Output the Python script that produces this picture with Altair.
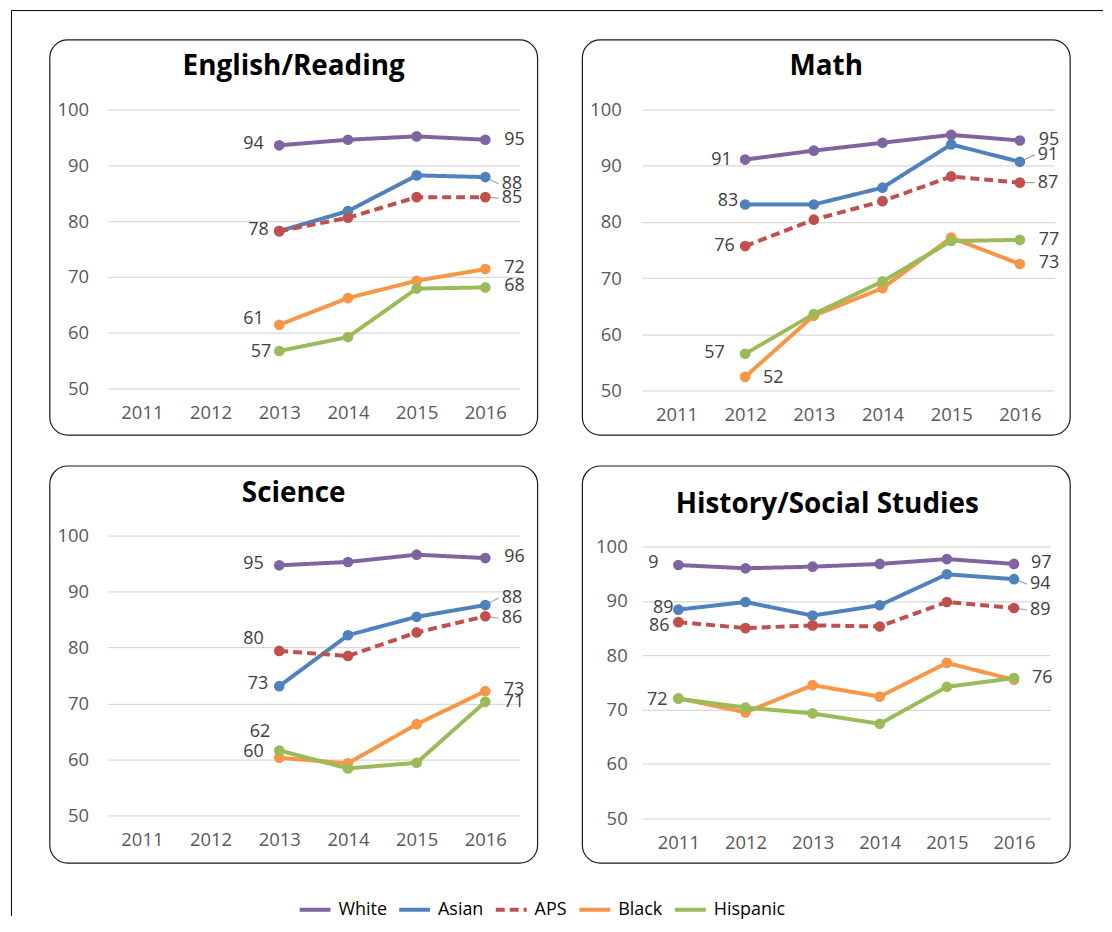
import altair as alt
import pandas as pd

FONT = "Open Sans"

YEARS = ["2011", "2012", "2013", "2014", "2015", "2016"]
GROUPS = ["White", "Asian", "APS", "Black", "Hispanic"]
COLORS = ["#8064A2", "#4F81BD", "#C0504D", "#F79646", "#9BBB59"]
DASHES = [[1, 0], [1, 0], [9, 5], [1, 0], [1, 0]]
Y_TICKS = [50, 60, 70, 80, 90, 100]

# ---- data (None = no value that year) ----
ENGLISH_WHITE = [None, None, 93.6, 94.6, 95.2, 94.6]
ENGLISH_ASIAN = [None, None, 78.2, 81.8, 88.2, 87.9]
ENGLISH_APS = [None, None, 78.2, 80.6, 84.3, 84.3]
ENGLISH_BLACK = [None, None, 61.4, 66.2, 69.3, 71.4]
ENGLISH_HISPANIC = [None, None, 56.7, 59.2, 67.9, 68.1]

MATH_WHITE = [None, 91.1, 92.7, 94.1, 95.5, 94.5]
MATH_ASIAN = [None, 83.1, 83.1, 86.1, 93.8, 90.7]
MATH_APS = [None, 75.7, 80.4, 83.7, 88.1, 87.0]
MATH_BLACK = [None, 52.4, 63.3, 68.2, 77.2, 72.5]
MATH_HISPANIC = [None, 56.5, 63.6, 69.4, 76.6, 76.8]

SCIENCE_WHITE = [None, None, 94.7, 95.3, 96.6, 96.0]
SCIENCE_ASIAN = [None, None, 73.1, 82.2, 85.5, 87.6]
SCIENCE_APS = [None, None, 79.4, 78.5, 82.7, 85.6]
SCIENCE_BLACK = [None, None, 60.3, 59.3, 66.3, 72.2]
SCIENCE_HISPANIC = [None, None, 61.6, 58.4, 59.4, 70.3]

HISTORY_WHITE = [96.6, 96.0, 96.3, 96.8, 97.7, 96.8]
HISTORY_ASIAN = [88.4, 89.8, 87.3, 89.2, 94.9, 94.0]
HISTORY_APS = [86.1, 85.0, 85.5, 85.3, 89.8, 88.7]
HISTORY_BLACK = [72.1, 69.5, 74.5, 72.4, 78.6, 75.5]
HISTORY_HISPANIC = [72.0, 70.4, 69.3, 67.4, 74.2, 75.8]

# data labels: (group, year, text)
ENGLISH_LABELS = [("White", "2013", "94"), ("Asian", "2013", "78"), ("Black", "2013", "61"),
                  ("Hispanic", "2013", "57"), ("White", "2016", "95"), ("Asian", "2016", "88"),
                  ("APS", "2016", "85"), ("Black", "2016", "72"), ("Hispanic", "2016", "68")]
MATH_LABELS = [("White", "2012", "91"), ("Asian", "2012", "83"), ("APS", "2012", "76"),
               ("Hispanic", "2012", "57"), ("Black", "2012", "52"), ("White", "2016", "95"),
               ("Asian", "2016", "91"), ("APS", "2016", "87"), ("Hispanic", "2016", "77"),
               ("Black", "2016", "73")]
SCIENCE_LABELS = [("White", "2013", "95"), ("APS", "2013", "80"), ("Asian", "2013", "73"),
                  ("Hispanic", "2013", "62"), ("Black", "2013", "60"), ("White", "2016", "96"),
                  ("Asian", "2016", "88"), ("APS", "2016", "86"), ("Black", "2016", "73"),
                  ("Hispanic", "2016", "71")]
HISTORY_LABELS = [("White", "2011", "9"), ("Asian", "2011", "89"), ("APS", "2011", "86"),
                  ("Black", "2011", "72"), ("White", "2016", "97"), ("Asian", "2016", "94"),
                  ("APS", "2016", "89"), ("Hispanic", "2016", "76")]

# ---- label placement (style): pixel nudges (dx, dy, align, leader line?) ----
NUDGE = {
    "English/Reading": [(-15.5, -1, "right", 0), (-10.5, -1, "right", 0), (-15.5, -6, "right", 0),
                        (-8, 1, "right", 0), (19, 0, "left", 0), (16.5, 7, "left", 1),
                        (16.5, 1, "left", 1), (19, -1, "left", 0), (19, -1, "left", 0)],
    "Math": [(-13.5, 0, "right", 0), (-7, -3, "right", 0), (-10.5, 0, "right", 0),
             (-20.5, -1, "right", 0), (18, 1, "left", 0), (19, 0, "left", 0),
             (18, -7, "left", 1), (18, 0, "left", 1), (19, 0, "left", 0), (19, -1, "left", 0)],
    "Science": [(-15.5, -1, "right", 0), (-15.5, -12, "right", 0), (-11, -2, "right", 0),
                (-9, -19, "right", 0), (-15.5, -6, "right", 0), (19, -1, "left", 0),
                (16.5, -7, "left", 1), (16.5, 2, "left", 1), (18.5, -1, "left", 0),
                (18.5, 0, "left", 0)],
    "History/Social Studies": [(-20, -2, "right", 0), (-5, -2, "right", 0), (-9, 4, "right", 0),
                               (-11, 2, "right", 0), (17, -1, "left", 0), (16, 5, "left", 1),
                               (16, 2, "left", 1), (18, 0, "left", 0)],
}

COLOR_OF = dict(zip(GROUPS, COLORS))

LEGEND = alt.Legend(
    title=None, orient="none", legendX=191, legendY=786, direction="horizontal",
    symbolType="stroke", symbolSize=961, symbolStrokeWidth=4, labelFontSize=18,
    labelFont=FONT, labelColor="black", columnPadding=4, labelOffset=6, padding=0,
)

DEC = pd.DataFrame({"k": [0]})


def panel(name, series, labels, width, height, ydomain, xpad, ylabpad,
          title_xy, box, frame=False):
    rows = []
    for g in GROUPS:
        for yr, v in zip(YEARS, series[g]):
            if v is not None:
                rows.append({"year": yr, "group": g, "score": v, "hex": COLOR_OF[g]})
    df = pd.DataFrame(rows)
    lookup = {(r["group"], r["year"]): r["score"] for r in rows}

    x = alt.X("year:O", scale=alt.Scale(type="point", domain=YEARS, padding=xpad),
              axis=alt.Axis(title=None, labelAngle=0, ticks=False, tickSize=0,
                            domain=False, grid=False, labelPadding=15))
    y = alt.Y("score:Q", scale=alt.Scale(domain=ydomain, nice=False, zero=False),
              axis=alt.Axis(title=None, values=Y_TICKS, ticks=False, tickSize=0,
                            domain=False, grid=True, gridColor="#D9D9D9",
                            gridWidth=1.2, labelPadding=ylabpad))

    bx0, bx1, by0, by1 = box
    box_mark = alt.Chart(DEC).mark_rect(
        cornerRadius=18, fillOpacity=0, stroke="#1a1a1a", strokeWidth=1.2
    ).encode(x=alt.value(bx0), x2=alt.value(bx1), y=alt.value(by0), y2=alt.value(by1))

    title = alt.Chart(DEC).mark_text(
        text=name, font=FONT, fontSize=28, fontWeight="bold", color="black",
        align="center", baseline="middle"
    ).encode(x=alt.value(title_xy[0]), y=alt.value(title_xy[1]))

    lines = alt.Chart(df).mark_line(strokeWidth=4).encode(
        x=x, y=y,
        color=alt.Color("group:N", scale=alt.Scale(domain=GROUPS, range=COLORS), legend=LEGEND),
        strokeDash=alt.StrokeDash("group:N", scale=alt.Scale(domain=GROUPS, range=DASHES),
                                  legend=LEGEND),
    )
    points = alt.Chart(df).mark_circle(size=115, opacity=1).encode(
        x="year:O", y="score:Q", color=alt.Color("hex:N", scale=None)
    )

    label_layers = []
    leader_layers = []
    for (g, yr, txt), (dx, dy, al, lead) in zip(labels, NUDGE[name]):
        one = pd.DataFrame([{"year": yr, "score": lookup[(g, yr)], "text": txt}])
        label_layers.append(
            alt.Chart(one).mark_text(
                align=al, baseline="middle", font=FONT, fontSize=18, color="#404040",
                dx=dx, dy=dy,
            ).encode(x="year:O", y="score:Q", text="text:N")
        )
        if lead:
            leader_layers.append(
                alt.Chart(one).mark_rule(
                    color="#A6A6A6", strokeWidth=1.2,
                    xOffset=4, x2Offset=dx - 3, yOffset=dy * 0.3, y2Offset=dy,
                ).encode(x="year:O", x2="year:O", y="score:Q", y2="score:Q")
            )

    layers = [box_mark, title, lines] + leader_layers + [points] + label_layers
    if frame:
        vrule = alt.Chart(DEC).mark_rule(color="black", strokeWidth=1).encode(
            x=alt.value(-96.5), y=alt.value(-99.5), y2=alt.value(810))
        hrule = alt.Chart(DEC).mark_rule(color="black", strokeWidth=1).encode(
            x=alt.value(-96.5), x2=alt.value(1000), y=alt.value(-99.5))
        layers = [vrule, hrule] + layers
    return alt.layer(*layers).properties(width=width, height=height)


english = {"White": ENGLISH_WHITE, "Asian": ENGLISH_ASIAN, "APS": ENGLISH_APS,
           "Black": ENGLISH_BLACK, "Hispanic": ENGLISH_HISPANIC}
math = {"White": MATH_WHITE, "Asian": MATH_ASIAN, "APS": MATH_APS,
        "Black": MATH_BLACK, "Hispanic": MATH_HISPANIC}
science = {"White": SCIENCE_WHITE, "Asian": SCIENCE_ASIAN, "APS": SCIENCE_APS,
           "Black": SCIENCE_BLACK, "Hispanic": SCIENCE_HISPANIC}
history = {"White": HISTORY_WHITE, "Asian": HISTORY_ASIAN, "APS": HISTORY_APS,
           "Black": HISTORY_BLACK, "Hispanic": HISTORY_HISPANIC}

p1 = panel("English/Reading", english, ENGLISH_LABELS, 414, 280, [50, 100], 0.5, 19,
           (187, -43), (-58, 432, -70, 327), frame=True)
p2 = panel("Math", math, MATH_LABELS, 414, 282, [50, 100], 0.5, 21,
           (185, -43), (-60, 430, -70, 327))
p3 = panel("Science", science, SCIENCE_LABELS, 414, 281, [50, 100], 0.5, 19,
           (187, -42), (-58, 432, -70, 329))
p4 = panel("History/Social Studies", history, HISTORY_LABELS, 410, 284, [50, 102], 0.54, 15,
           (186, -31), (-60, 430, -70, 329))

chart = alt.concat(
    p1, p2, p3, p4, columns=2, bounds="flush",
    spacing=alt.RowColnumber(row=146, column=123),
).properties(
    padding={"left": 3, "top": 0, "right": 0, "bottom": 0}
).configure(font=FONT).configure_view(stroke=None).configure_axis(
    labelFont=FONT, labelFontSize=18.5, labelColor="#595959"
)

chart.save("out.html", embed_options={"renderer": "svg", "actions": False})
